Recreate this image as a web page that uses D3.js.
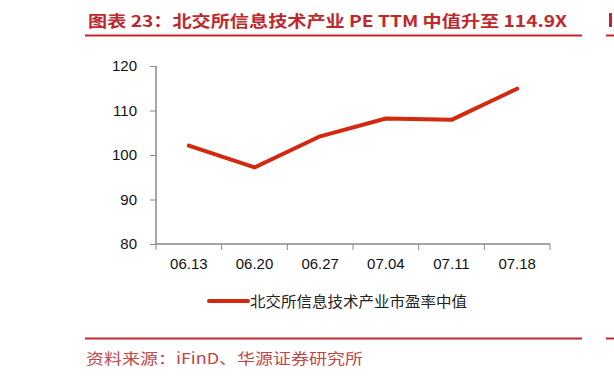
<!DOCTYPE html>
<html>
<head>
<meta charset="utf-8">
<script src="https://cdn.jsdelivr.net/npm/d3@7"></script>
<style>
  body { margin: 0; background: #fff; }
  svg { display: block; }
</style>
</head>
<body>
<div id="chart"></div>
<script>
// data
var dates = ["06.13", "06.20", "06.27", "07.04", "07.11", "07.18"];
var peValues = [102.1, 97.2, 104.2, 108.2, 107.9, 114.9];
var yTicks = [80, 90, 100, 110, 120];
var seriesName = "北交所信息技术产业市盈率中值";
var titleText = "图表 23：北交所信息技术产业 PE TTM 中值升至 114.9X";
var sourceText = "资料来源：iFinD、华源证券研究所";

var W = 614, H = 377;
var red = "#c0282e";

var svg = d3.select("#chart")
  .append("svg")
    .attr("width", W)
    .attr("height", H);

// title + rules
svg.append("text")
  .attr("x", 88)
  .attr("y", 26.5)
  .attr("font-family", "Noto Sans CJK SC")
  .attr("font-weight", "bold")
  .attr("font-size", 16)
  .attr("fill", red)
  .attr("textLength", 479)
  .attr("lengthAdjust", "spacingAndGlyphs")
  .text(titleText);

svg.append("line")
  .attr("x1", 85).attr("x2", 582)
  .attr("y1", 35.5).attr("y2", 35.5)
  .attr("stroke", red).attr("stroke-width", 2);

svg.append("line")
  .attr("x1", 85).attr("x2", 582)
  .attr("y1", 338.5).attr("y2", 338.5)
  .attr("stroke", red).attr("stroke-width", 2);

// fragments of the neighbouring panel at the right edge
svg.append("line")
  .attr("x1", 606).attr("x2", 614)
  .attr("y1", 35.5).attr("y2", 35.5)
  .attr("stroke", red).attr("stroke-width", 2);
svg.append("line")
  .attr("x1", 606).attr("x2", 614)
  .attr("y1", 338.5).attr("y2", 338.5)
  .attr("stroke", red).attr("stroke-width", 2);
svg.append("rect")
  .attr("x", 609).attr("y", 13).attr("width", 3).attr("height", 14)
  .attr("fill", red);

svg.append("text")
  .attr("x", 86)
  .attr("y", 364)
  .attr("font-family", "Noto Sans CJK SC")
  .attr("font-size", 15)
  .attr("fill", "#c0464a")
  .attr("textLength", 277)
  .attr("lengthAdjust", "spacingAndGlyphs")
  .text(sourceText);

// plot area
var x = d3.scaleBand()
  .domain(dates)
  .range([156, 550])
  .padding(0);

var y = d3.scaleLinear()
  .domain([80, 120])
  .range([244, 66]);

var axisColor = "#898989";

var yAxis = svg.append("g")
  .attr("transform", "translate(156,0)")
  .call(d3.axisLeft(y).tickValues(yTicks).tickSize(6).tickPadding(13));

var xAxis = svg.append("g")
  .attr("transform", "translate(0,244)")
  .call(d3.axisBottom(x).tickSize(0).tickPadding(14));

// category boundary ticks on x axis
xAxis.selectAll(".bound")
  .data(d3.range(dates.length + 1))
  .enter()
  .append("line")
    .attr("class", "bound")
    .attr("x1", function(i) { return 156 + i * x.step(); })
    .attr("x2", function(i) { return 156 + i * x.step(); })
    .attr("y1", 0)
    .attr("y2", 6)
    .attr("stroke", axisColor);

svg.selectAll(".domain").attr("stroke", axisColor).attr("stroke-width", 1.5);
yAxis.selectAll(".tick line").attr("stroke", axisColor);
yAxis.select(".domain").attr("d", "M0,66V244");
xAxis.select(".domain").attr("d", "M156,0H550");

svg.selectAll(".tick text")
  .attr("font-family", "Liberation Sans, Arial, sans-serif")
  .attr("font-size", 15)
  .attr("fill", "#111");

// series line
var line = d3.line()
  .x(function(d, i) { return x(dates[i]) + x.bandwidth() / 2; })
  .y(function(d) { return y(d); });

svg.append("path")
  .datum(peValues)
  .attr("d", line)
  .attr("fill", "none")
  .attr("stroke", "#d2290f")
  .attr("stroke-width", 4)
  .attr("stroke-linejoin", "round")
  .attr("stroke-linecap", "round");

// legend
svg.append("line")
  .attr("x1", 209).attr("x2", 248)
  .attr("y1", 301).attr("y2", 301)
  .attr("stroke", "#d2290f")
  .attr("stroke-width", 4)
  .attr("stroke-linecap", "round");

svg.append("text")
  .attr("x", 250)
  .attr("y", 306.5)
  .attr("font-family", "Noto Sans CJK SC")
  .attr("font-size", 15)
  .attr("fill", "#222")
  .attr("textLength", 217)
  .attr("lengthAdjust", "spacingAndGlyphs")
  .text(seriesName);
</script>
</body>
</html>
